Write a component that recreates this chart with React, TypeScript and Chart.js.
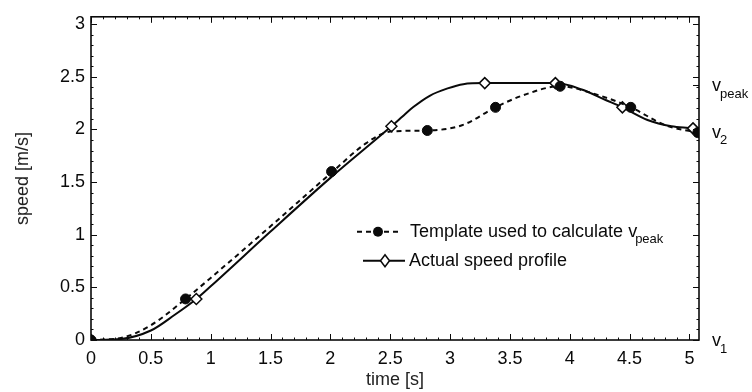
import React, { useEffect, useRef } from 'react';
import { Chart, registerables } from 'chart.js';

Chart.register(...registerables);

// ---- data ----
const templateCurveX = [0, 0.25, 0.5, 0.79, 1.0, 1.5, 2.01, 2.3, 2.5, 2.81, 3.1, 3.38, 3.6, 3.92, 4.2, 4.51, 4.8, 5.07];
const templateCurveY = [0, 0.02, 0.14, 0.39, 0.59, 1.08, 1.59, 1.87, 1.98, 1.99, 2.04, 2.21, 2.32, 2.41, 2.34, 2.21, 2.04, 1.97];
const templateMarkerX = [0, 0.79, 2.01, 2.81, 3.38, 3.92, 4.51, 5.07];
const templateMarkerY = [0, 0.39, 1.6, 1.99, 2.21, 2.41, 2.21, 1.97];

const actualCurveX = [0, 0.25, 0.5, 0.7, 0.88, 1.0, 1.5, 2.0, 2.51, 2.6, 2.69, 2.83, 2.98, 3.11, 3.29, 3.88, 4.1, 4.3, 4.44, 4.65, 4.85, 5.03, 5.08];
const actualCurveY = [0, 0.01, 0.09, 0.24, 0.39, 0.51, 1.03, 1.54, 2.03, 2.12, 2.21, 2.32, 2.39, 2.43, 2.44, 2.44, 2.38, 2.28, 2.21, 2.09, 2.03, 2.01, 2.0];
const actualMarkerX = [0, 0.88, 2.51, 3.29, 3.88, 4.44, 5.03];
const actualMarkerY = [0, 0.39, 2.03, 2.44, 2.44, 2.21, 2.01];

const xTickValues = [0, 0.5, 1, 1.5, 2, 2.5, 3, 3.5, 4, 4.5, 5];
const yTickValues = [0, 0.5, 1, 1.5, 2, 2.5, 3];
const xMax = 5.08;
const yMax = 3.07;

const rightTickValues = [0, 1.98, 2.42];
const rightTickMain = ['v', 'v', 'v'];
const rightTickSubs = ['1', '2', 'peak'];

const legendLabels = ['Template used to calculate v', 'Actual speed profile'];
const legendSubs = ['peak', ''];

const xTitle = 'time [s]';
const yTitle = 'speed [m/s]';

const FONT = '"Liberation Sans", Arial, Helvetica, sans-serif';
const INK = '#0a0a0a';

const toPts = (xs: number[], ys: number[]) => xs.map((x, i) => ({ x, y: ys[i] }));

const decorPlugin = {
  id: 'decor',
  afterDraw(chart: any) {
    const ctx = chart.ctx as CanvasRenderingContext2D;
    const { left, right, top, bottom } = chart.chartArea;
    const xs = chart.scales.x;
    const ys = chart.scales.y;
    const y2 = chart.scales.y2;
    ctx.save();
    ctx.strokeStyle = INK;
    ctx.lineWidth = 1;
    for (let i = 0; i * 0.1 <= xMax + 1e-9; i++) {
      const v = i * 0.1;
      const major = i % 5 === 0;
      const len = major ? 6 : 2.5;
      const px = Math.round(xs.getPixelForValue(v)) + 0.5;
      ctx.beginPath();
      ctx.moveTo(px, bottom); ctx.lineTo(px, bottom - len);
      ctx.moveTo(px, top); ctx.lineTo(px, top + len);
      ctx.stroke();
    }
    for (let i = 0; i * 0.1 <= yMax + 1e-9; i++) {
      const v = i * 0.1;
      const major = i % 5 === 0;
      const len = major ? 6 : 2.5;
      const py = Math.round(ys.getPixelForValue(v)) + 0.5;
      ctx.beginPath();
      ctx.moveTo(left, py); ctx.lineTo(left + len, py);
      ctx.moveTo(right, py); ctx.lineTo(right - len, py);
      ctx.stroke();
    }
    rightTickValues.forEach((v) => {
      const py = Math.round(y2.getPixelForValue(v)) + 0.5;
      ctx.beginPath();
      ctx.moveTo(right, py); ctx.lineTo(right - 6, py);
      ctx.stroke();
    });
    ctx.lineWidth = 1.6;
    ctx.strokeRect(left, top, right - left, bottom - top);

    ctx.fillStyle = INK;
    ctx.textBaseline = 'middle';
    ctx.textAlign = 'left';
    rightTickValues.forEach((v, i) => {
      const py = y2.getPixelForValue(v);
      const x0 = right + 13;
      ctx.font = `18px ${FONT}`;
      ctx.fillText(rightTickMain[i], x0, py + 1);
      const w = ctx.measureText(rightTickMain[i]).width;
      ctx.font = `13px ${FONT}`;
      ctx.fillText(rightTickSubs[i], x0 + w - 1, py + 9);
    });

    // legend
    const lx = left + 266;
    const rows = [top + 215, top + 244];
    ctx.lineWidth = 2;
    ctx.setLineDash([5, 4]);
    ctx.beginPath();
    ctx.moveTo(lx, rows[0]); ctx.lineTo(lx + 43, rows[0]);
    ctx.stroke();
    ctx.setLineDash([]);
    ctx.beginPath();
    ctx.arc(lx + 21, rows[0], 5, 0, Math.PI * 2);
    ctx.fill();
    ctx.beginPath();
    ctx.moveTo(lx + 6, rows[1]); ctx.lineTo(lx + 48, rows[1]);
    ctx.stroke();
    ctx.beginPath();
    const dx = lx + 28, dy = rows[1];
    ctx.moveTo(dx, dy - 6); ctx.lineTo(dx + 4.5, dy); ctx.lineTo(dx, dy + 6); ctx.lineTo(dx - 4.5, dy); ctx.closePath();
    ctx.fillStyle = '#fff';
    ctx.fill();
    ctx.lineWidth = 1.5;
    ctx.stroke();
    ctx.fillStyle = INK;
    const tx = [lx + 53, lx + 52];
    legendLabels.forEach((t, i) => {
      ctx.font = `18px ${FONT}`;
      ctx.fillText(t, tx[i], rows[i]);
      if (legendSubs[i]) {
        const w = ctx.measureText(t).width;
        ctx.font = `13px ${FONT}`;
        ctx.fillText(legendSubs[i], tx[i] + w - 2, rows[i] + 8);
      }
    });
    ctx.restore();
  },
};

export default function App() {
  const ref = useRef<HTMLCanvasElement | null>(null);
  useEffect(() => {
    if (!ref.current) return;
    const chart = new Chart(ref.current, {
      type: 'scatter',
      data: {
        datasets: [
          {
            label: 'template markers',
            data: toPts(templateMarkerX, templateMarkerY),
            showLine: false,
            pointStyle: 'circle',
            pointRadius: 5,
            pointBackgroundColor: INK,
            pointBorderColor: INK,
            pointBorderWidth: 1,
          },
          {
            label: 'template',
            data: toPts(templateCurveX, templateCurveY),
            showLine: true,
            borderColor: INK,
            borderWidth: 2,
            borderDash: [5, 4],
            pointRadius: 0,
            cubicInterpolationMode: 'monotone',
          },
          {
            label: 'actual markers',
            data: toPts(actualMarkerX, actualMarkerY),
            showLine: false,
            pointStyle: 'rectRot',
            pointRadius: 5.5,
            pointBackgroundColor: '#fff',
            pointBorderColor: INK,
            pointBorderWidth: 1.5,
          },
          {
            label: 'actual',
            data: toPts(actualCurveX, actualCurveY),
            showLine: true,
            borderColor: INK,
            borderWidth: 2,
            pointRadius: 0,
            cubicInterpolationMode: 'monotone',
          },
        ],
      },
      options: {
        animation: false,
        responsive: false,
        devicePixelRatio: 1,
        layout: { padding: { top: 12, left: 0, right: 0, bottom: 0 } },
        plugins: { legend: { display: false }, tooltip: { enabled: false } },
        scales: {
          x: {
            type: 'linear',
            position: 'bottom',
            min: 0,
            max: xMax,
            afterBuildTicks: (s: any) => { s.ticks = xTickValues.map((v) => ({ value: v })); },
            afterFit: (s: any) => { s.height = 52; },
            grid: { display: false, drawTicks: false },
            border: { display: false },
            ticks: {
              padding: 8,
              color: INK,
              font: { family: FONT, size: 18 },
              maxRotation: 0,
              autoSkip: false,
              callback: (v: any) => String(v),
            },
            title: {
              display: true,
              text: xTitle,
              color: '#222',
              font: { family: FONT, size: 18 },
              padding: { top: 0, bottom: 1 },
            },
          },
          y: {
            type: 'linear',
            position: 'left',
            min: 0,
            max: yMax,
            afterBuildTicks: (s: any) => { s.ticks = yTickValues.map((v) => ({ value: v })); },
            afterFit: (s: any) => { s.width = 91; },
            grid: { display: false, drawTicks: false },
            border: { display: false },
            ticks: {
              padding: 6,
              color: INK,
              font: { family: FONT, size: 18 },
              autoSkip: false,
              callback: (v: any) => String(v),
            },
            title: {
              display: true,
              text: yTitle,
              color: '#222',
              font: { family: FONT, size: 18 },
              padding: { top: 12, bottom: 0 },
            },
          },
          y2: {
            type: 'linear',
            position: 'right',
            min: 0,
            max: yMax,
            afterBuildTicks: (s: any) => { s.ticks = rightTickValues.map((v) => ({ value: v })); },
            afterFit: (s: any) => { s.width = 53; },
            grid: { display: false, drawTicks: false },
            border: { display: false },
            ticks: { display: false },
          },
        },
      },
      plugins: [decorPlugin],
    } as any);
    return () => chart.destroy();
  }, []);
  return (
    <div style={{ position: 'fixed', left: 0, top: 0, width: 752, height: 392, background: '#fff' }}>
      <canvas ref={ref} width={752} height={392} style={{ display: 'block', width: 752, height: 392 }} />
    </div>
  );
}
